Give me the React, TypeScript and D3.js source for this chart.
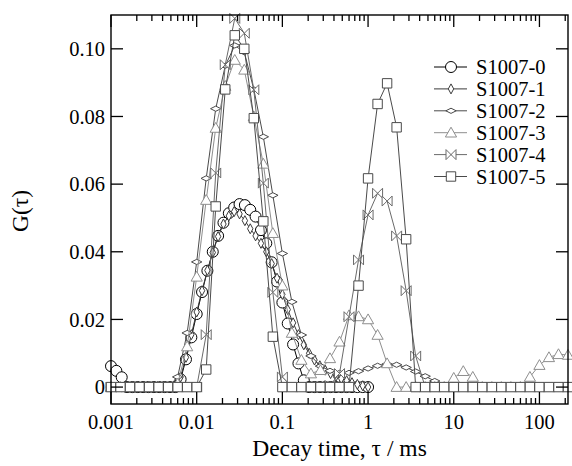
import React, { useEffect, useRef } from "react";
import * as d3 from "d3";

// decay-time grids (ms): coarse grid for most samples, fine grid for S1007-0 / S1007-1
const tauA = [
  0.001, 0.0012915, 0.0016681, 0.0021544, 0.0027826, 0.0035938, 0.0046416, 0.0059948, 0.0077426,
  0.01, 0.012915, 0.016681, 0.021544, 0.027826, 0.035938, 0.046416, 0.059948, 0.077426,
  0.1, 0.12915, 0.16681, 0.21544, 0.27826, 0.35938, 0.46416, 0.59948, 0.77426,
  1, 1.2915, 1.6681, 2.1544, 2.7826, 3.5938, 4.6416, 5.9948, 7.7426,
  10, 12.915, 16.681, 21.544, 27.826, 35.938, 46.416, 59.948, 77.426,
  100, 129.15, 166.81, 215.44,
];
const tauB = [
  0.001, 0.0011548, 0.0013335, 0.0015399, 0.0017783, 0.0020535, 0.0023714, 0.0027384,
  0.0031623, 0.0036517, 0.004217, 0.0048697, 0.0056234, 0.0064938, 0.0074989, 0.0086596,
  0.01, 0.011548, 0.013335, 0.015399, 0.017783, 0.020535, 0.023714, 0.027384,
  0.031623, 0.036517, 0.04217, 0.048697, 0.056234, 0.064938, 0.074989, 0.086596,
  0.1, 0.11548, 0.13335, 0.15399, 0.17783, 0.20535, 0.23714, 0.27384,
  0.31623, 0.36517, 0.4217, 0.48697, 0.56234, 0.64938, 0.74989, 0.86596,
  1,
];

const s0 = [
  0.0062, 0.0048, 0.0029, 0, 0, 0, 0, 0, 0, 0, 0, 0, 0,
  0.0023, 0.0082, 0.0147, 0.0216, 0.0281, 0.0344, 0.04, 0.0447, 0.0486, 0.0514, 0.0531, 0.0541,
  0.0538, 0.0524, 0.0504, 0.0464, 0.0425, 0.0369, 0.0312, 0.025, 0.0188, 0.0126, 0.007, 0.002,
  0, 0, 0, 0, 0, 0, 0, 0, 0, 0, 0, 0,
];
const s1 = [
  0, 0, 0, 0, 0, 0, 0, 0, 0, 0, 0, 0, 0,
  0.003, 0.0088, 0.0155, 0.0222, 0.0285, 0.0345, 0.0398, 0.0445, 0.0482, 0.0506, 0.0519, 0.0512,
  0.0492, 0.0468, 0.0447, 0.0425, 0.04, 0.0365, 0.0322, 0.0274, 0.0229, 0.019, 0.0155, 0.0125,
  0.01, 0.008, 0.0063, 0.005, 0.004, 0.0032, 0.0025, 0.0019, 0.0013, 0.0008, 0.0004, 0,
];
const s2 = [
  0, 0, 0, 0, 0, 0, 0,
  0.003, 0.016, 0.037, 0.0617, 0.0823, 0.095, 0.101, 0.099, 0.088, 0.074, 0.0567, 0.0395,
  0.0252, 0.0154, 0.0092, 0.0062, 0.0048, 0.0042, 0.0042, 0.0047, 0.0055, 0.0063, 0.0068,
  0.0066, 0.0058, 0.0046, 0.0032, 0.0018, 0.0006,
  0, 0, 0, 0, 0, 0, 0, 0, 0, 0, 0, 0, 0,
];
const s3 = [
  0, 0, 0, 0, 0, 0, 0,
  0.001, 0.012, 0.0326, 0.0553, 0.0766, 0.089, 0.0967, 0.0938, 0.08, 0.066, 0.0455, 0.03,
  0.016, 0.008, 0.004, 0.005, 0.0085, 0.0134, 0.0212, 0.0209, 0.02, 0.0154, 0.007,
  0, 0, 0, 0, 0, 0,
  0.0027, 0.0047, 0.003,
  0, 0, 0, 0, 0,
  0.003, 0.0065, 0.0088, 0.0097, 0.0095,
];
const s4 = [
  0, 0, 0, 0, 0, 0, 0, 0, 0, 0,
  0.0155, 0.0633, 0.0953, 0.109, 0.1046, 0.0879, 0.0603, 0.028, 0.003,
  0, 0, 0, 0,
  0.0005, 0.004, 0.0208, 0.0376, 0.0509, 0.0573, 0.055, 0.0447, 0.0285, 0.0092,
  0, 0, 0, 0, 0, 0, 0, 0, 0, 0, 0, 0, 0, 0, 0, 0,
];
const s5 = [
  0, 0, 0, 0, 0, 0, 0, 0, 0, 0,
  0.0052, 0.0534, 0.088, 0.104, 0.1, 0.0795, 0.049, 0.0149,
  0, 0, 0, 0, 0, 0, 0, 0,
  0.03, 0.0617, 0.0837, 0.0898, 0.0768, 0.0437,
  0, 0, 0, 0, 0, 0, 0, 0, 0, 0, 0, 0, 0, 0, 0, 0, 0,
];

const seriesNames = ["S1007-0", "S1007-1", "S1007-2", "S1007-3", "S1007-4", "S1007-5"];
const xTicks = [0.001, 0.01, 0.1, 1, 10, 100];
const xTickLabels = ["0.001", "0.01", "0.1", "1", "10", "100"];
const yTicks = [0, 0.02, 0.04, 0.06, 0.08, 0.1];
const yTickLabels = ["0", "0.02", "0.04", "0.06", "0.08", "0.10"];

const markers: Record<string, string> = {
  circle: "M-5.5,0A5.5,5.5 0 1,0 5.5,0A5.5,5.5 0 1,0 -5.5,0Z",
  tallDiamond: "M0,-5L2.7,0L0,5L-2.7,0Z",
  flatDiamond: "M-5.2,0L0,-2.6L5.2,0L0,2.6Z",
  triangle: "M0,-5.5L5.6,4.3L-5.6,4.3Z",
  bowtie: "M-5,-5L5,5L5,-5L-5,5Z",
  square: "M-4.7,-4.7H4.7V4.7H-4.7Z",
};

const FONT = "Liberation Serif, DejaVu Serif, serif";

export default function App() {
  const svgRef = useRef<SVGSVGElement>(null);

  useEffect(() => {
    const width = 572;
    const height = 466;
    const margin = { top: 15, right: 4, bottom: 62, left: 111 };

    const svg = d3.select(svgRef.current);
    svg.selectAll("*").remove();
    svg.attr("width", width).attr("height", height).attr("font-family", FONT);

    const x = d3
      .scaleLog()
      .domain([0.001, 215.44])
      .range([margin.left, width - margin.right]);
    const y = d3
      .scaleLinear()
      .domain([-0.005, 0.11])
      .range([height - margin.bottom, margin.top]);

    const [x0, x1] = x.range();
    const [yb, yt] = y.range();

    const series = [
      { name: seriesNames[0], tau: tauB, vals: s0, marker: "circle", color: "#000000" },
      { name: seriesNames[1], tau: tauB, vals: s1, marker: "tallDiamond", color: "#3a3a3a" },
      { name: seriesNames[2], tau: tauA, vals: s2, marker: "flatDiamond", color: "#4a4a4a" },
      { name: seriesNames[3], tau: tauA, vals: s3, marker: "triangle", color: "#8e8e8e" },
      { name: seriesNames[4], tau: tauA, vals: s4, marker: "bowtie", color: "#6a6a6a" },
      { name: seriesNames[5], tau: tauA, vals: s5, marker: "square", color: "#4a4a4a" },
    ];

    const line = d3
      .line<[number, number]>()
      .x((d) => x(d[0]))
      .y((d) => y(d[1]));

    // data
    series.forEach((s) => {
      const pts: [number, number][] = s.tau.map((t, i) => [t, s.vals[i]]);
      const g = svg.append("g");
      g.append("path")
        .attr("d", line(pts))
        .attr("fill", "none")
        .attr("stroke", s.color)
        .attr("stroke-width", 1);
      g.selectAll("path.m")
        .data(pts)
        .enter()
        .append("path")
        .attr("class", "m")
        .attr("d", markers[s.marker])
        .attr("transform", (d) => `translate(${x(d[0])},${y(d[1])})`)
        .attr("fill", "#fff")
        .attr("stroke", s.color)
        .attr("stroke-width", 1);
    });

    // frame
    svg
      .append("rect")
      .attr("x", x0)
      .attr("y", yt)
      .attr("width", x1 - x0)
      .attr("height", yb - yt)
      .attr("fill", "none")
      .attr("stroke", "#000")
      .attr("stroke-width", 1.4);

    // x ticks (inward, top and bottom)
    const allX = x.ticks().filter((t) => t >= 0.001 && t <= 215.44);
    allX.forEach((t) => {
      const major = Math.abs(Math.log10(t) - Math.round(Math.log10(t))) < 1e-6;
      const len = major ? 12 : 6;
      svg.append("line")
        .attr("x1", x(t)).attr("x2", x(t))
        .attr("y1", yb).attr("y2", yb - len)
        .attr("stroke", "#000").attr("stroke-width", 1.3);
      svg.append("line")
        .attr("x1", x(t)).attr("x2", x(t))
        .attr("y1", yt).attr("y2", yt + len)
        .attr("stroke", "#000").attr("stroke-width", 1.3);
    });
    xTicks.forEach((t, i) => {
      svg.append("text")
        .attr("x", x(t))
        .attr("y", yb + 25)
        .attr("text-anchor", "middle")
        .attr("font-size", 20.5)
        .text(xTickLabels[i]);
    });

    // y ticks (inward, left and right)
    yTicks.forEach((t, i) => {
      svg.append("line")
        .attr("x1", x0).attr("x2", x0 + 12)
        .attr("y1", y(t)).attr("y2", y(t))
        .attr("stroke", "#000").attr("stroke-width", 1.3);
      svg.append("line")
        .attr("x1", x1).attr("x2", x1 - 12)
        .attr("y1", y(t)).attr("y2", y(t))
        .attr("stroke", "#000").attr("stroke-width", 1.3);
      svg.append("text")
        .attr("x", x0 - 6)
        .attr("y", y(t))
        .attr("dy", "0.35em")
        .attr("text-anchor", "end")
        .attr("font-size", 20.5)
        .text(yTickLabels[i]);
    });

    // axis titles
    svg.append("text")
      .attr("x", (x0 + x1) / 2)
      .attr("y", 456)
      .attr("text-anchor", "middle")
      .attr("font-size", 23.5)
      .text("Decay time, τ / ms");

    svg.append("text")
      .attr("transform", "rotate(-90)")
      .attr("x", -211)
      .attr("y", 28)
      .attr("text-anchor", "middle")
      .attr("font-size", 23.5)
      .text("G(τ)");

    // legend
    const legend = svg.append("g").attr("transform", "translate(434,67)");
    series.forEach((s, i) => {
      const g = legend.append("g").attr("transform", `translate(0,${i * 21.9})`);
      g.append("line")
        .attr("x1", 0).attr("x2", 33)
        .attr("y1", 0).attr("y2", 0)
        .attr("stroke", s.color).attr("stroke-width", 1);
      g.append("path")
        .attr("d", markers[s.marker])
        .attr("transform", "translate(17,0)")
        .attr("fill", "#fff")
        .attr("stroke", s.color);
      g.append("text")
        .attr("x", 42)
        .attr("y", 0)
        .attr("dy", "0.35em")
        .attr("font-size", 20.5)
        .text(s.name);
    });
  }, []);

  return (
    <svg
      ref={svgRef}
      style={{ position: "absolute", left: 0, top: 0, background: "#fff" }}
    ></svg>
  );
}
